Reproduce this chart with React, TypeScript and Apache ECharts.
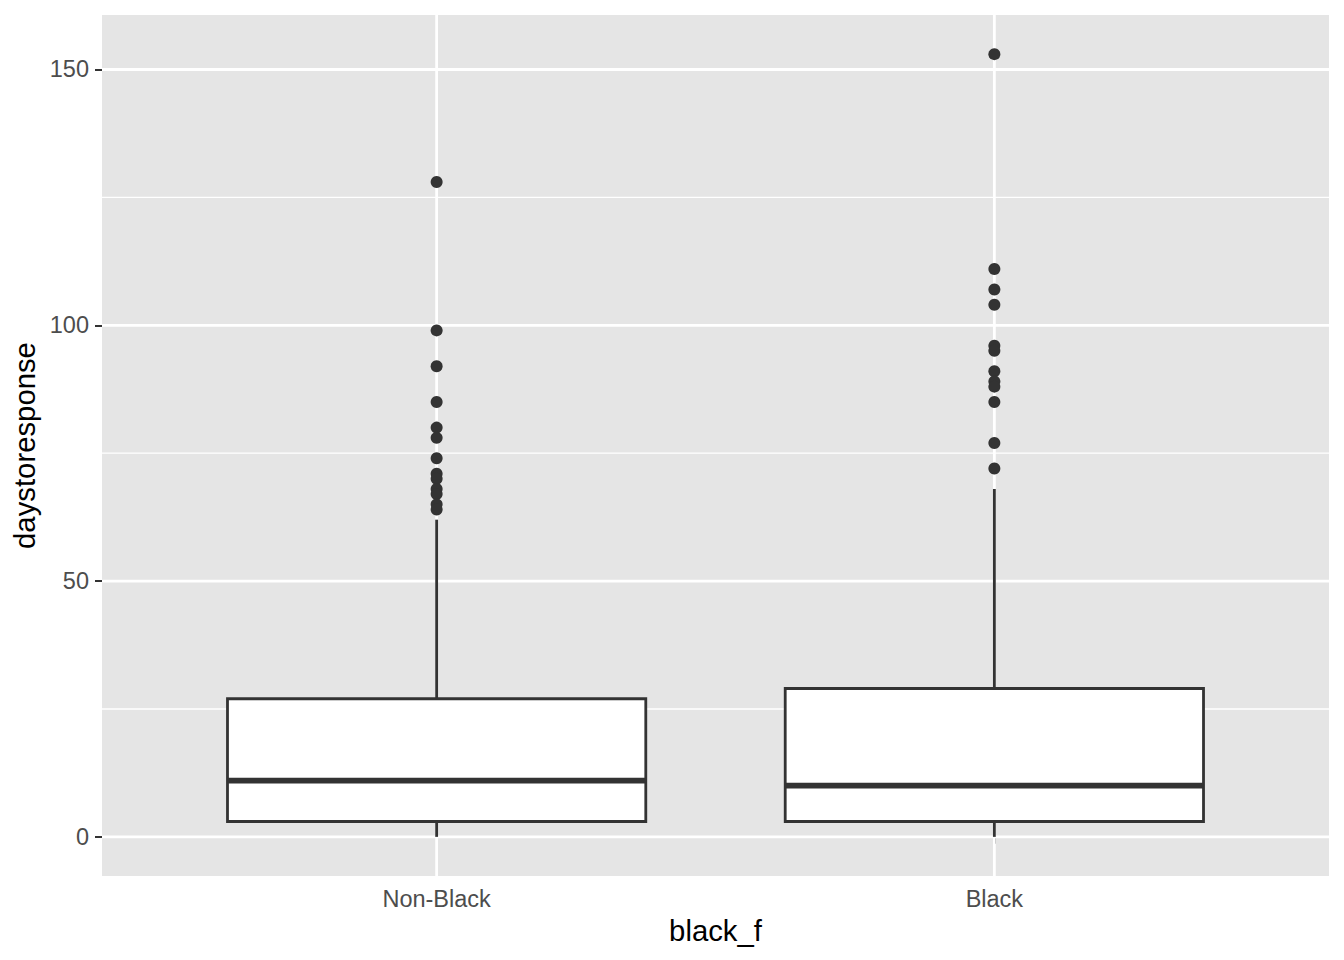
import React, { useEffect, useRef } from "react";
import * as echarts from "echarts";

const categories = ["Non-Black", "Black"];
const categoryPositions = [1, 2];
// [lower whisker, Q1, median, Q3, upper whisker]
const nonBlackBox = [0, 3, 11, 27, 62];
const blackBox = [0, 3, 10, 29, 68];
const nonBlackOutliers = [128, 99, 92, 85, 80, 78, 74, 71, 70, 68, 67, 65, 64];
const blackOutliers = [153, 111, 107, 104, 96, 95, 91, 89, 88, 85, 77, 72];
const yMajorBreaks = [0, 50, 100, 150];
const yMinorBreaks = [25, 75, 125];
const yLimits = [-7.65, 160.65];
const xLimits = [0.4, 2.6];

const FONT = "'Liberation Sans', Arial, Helvetica, sans-serif";
const INK = "#333333";

export default function App() {
  const ref = useRef<HTMLDivElement>(null);

  useEffect(() => {
    if (!ref.current) return;
    const chart = echarts.init(ref.current, undefined, { renderer: "svg" });

    const boxes = [nonBlackBox, blackBox].map((b, i) => [categoryPositions[i], ...b]);
    const outliers = [
      ...nonBlackOutliers.map((v) => [categoryPositions[0], v]),
      ...blackOutliers.map((v) => [categoryPositions[1], v]),
    ];
    // gridline data: [kind, value]; kind 0 = horizontal major, 1 = horizontal minor, 2 = vertical major
    const gridData = [
      ...yMajorBreaks.map((v) => [0, v]),
      ...yMinorBreaks.map((v) => [1, v]),
      ...categoryPositions.map((v) => [2, v]),
    ];

    const option: any = {
      animation: false,
      grid: {
        left: 102,
        right: 15,
        top: 15,
        bottom: 84,
        show: true,
        backgroundColor: "#E5E5E5",
        borderWidth: 0,
      },
      xAxis: {
        type: "value",
        min: xLimits[0],
        max: xLimits[1],
        splitLine: { show: false },
        axisLine: { show: false },
        axisTick: {
          show: true,
          customValues: categoryPositions,
          length: 7,
          lineStyle: { color: INK, width: 2 },
        },
        axisLabel: {
          customValues: categoryPositions,
          formatter: (v: number) => {
            const i = categoryPositions.indexOf(v);
            return i >= 0 ? categories[i] : "";
          },
          color: "#4D4D4D",
          fontSize: 23.5,
          fontFamily: FONT,
          margin: 11,
        },
        name: "black_f",
        nameLocation: "middle",
        nameGap: 40,
        nameTextStyle: { color: "#000", fontSize: 29.3, fontFamily: FONT },
      },
      yAxis: {
        type: "value",
        min: yLimits[0],
        max: yLimits[1],
        splitLine: { show: false },
        axisLine: { show: false },
        axisTick: {
          show: true,
          customValues: yMajorBreaks,
          length: 7,
          lineStyle: { color: INK, width: 2 },
        },
        axisLabel: {
          customValues: yMajorBreaks,
          color: "#4D4D4D",
          fontSize: 23.5,
          fontFamily: FONT,
          margin: 13,
        },
        name: "daystoresponse",
        nameLocation: "middle",
        nameGap: 59,
        nameTextStyle: { color: "#000", fontSize: 29.3, fontFamily: FONT },
      },
      series: [
        {
          type: "custom",
          z: 1,
          silent: true,
          data: gridData,
          encode: { x: 0, y: 1 },
          renderItem: (params: any, api: any) => {
            const kind = api.value(0);
            const v = api.value(1);
            if (kind === 2) {
              const a = api.coord([v, yLimits[0]]);
              const b = api.coord([v, yLimits[1]]);
              return {
                type: "line",
                shape: { x1: a[0], y1: a[1], x2: b[0], y2: b[1] },
                style: { stroke: "#FFFFFF", lineWidth: 2.8 },
              };
            }
            const a = api.coord([xLimits[0], v]);
            const b = api.coord([xLimits[1], v]);
            return {
              type: "line",
              shape: { x1: a[0], y1: a[1], x2: b[0], y2: b[1] },
              style: { stroke: "#FFFFFF", lineWidth: kind === 0 ? 2.8 : 1.4 },
            };
          },
        },
        {
          type: "custom",
          z: 2,
          silent: true,
          data: boxes,
          encode: { x: 0, y: [1, 2, 3, 4, 5] },
          renderItem: (params: any, api: any) => {
            const x = api.value(0);
            const lo = api.value(1);
            const q1 = api.value(2);
            const med = api.value(3);
            const q3 = api.value(4);
            const hi = api.value(5);
            const half = 0.375;
            const tl = api.coord([x - half, q3]);
            const br = api.coord([x + half, q1]);
            const mL = api.coord([x - half, med]);
            const mR = api.coord([x + half, med]);
            const pLo = api.coord([x, lo]);
            const pQ1 = api.coord([x, q1]);
            const pQ3 = api.coord([x, q3]);
            const pHi = api.coord([x, hi]);
            return {
              type: "group",
              children: [
                {
                  type: "line",
                  shape: { x1: pHi[0], y1: pHi[1], x2: pQ3[0], y2: pQ3[1] },
                  style: { stroke: INK, lineWidth: 2.8 },
                },
                {
                  type: "line",
                  shape: { x1: pLo[0], y1: pLo[1], x2: pQ1[0], y2: pQ1[1] },
                  style: { stroke: INK, lineWidth: 2.8 },
                },
                {
                  type: "rect",
                  shape: { x: tl[0], y: tl[1], width: br[0] - tl[0], height: br[1] - tl[1] },
                  style: { fill: "#FFFFFF", stroke: INK, lineWidth: 2.8 },
                },
                {
                  type: "line",
                  shape: { x1: mL[0], y1: mL[1], x2: mR[0], y2: mR[1] },
                  style: { stroke: INK, lineWidth: 5.7 },
                },
              ],
            };
          },
        },
        {
          type: "scatter",
          z: 3,
          silent: true,
          data: outliers,
          symbol: "circle",
          symbolSize: 12,
          itemStyle: { color: INK, opacity: 1 },
        },
      ],
    };

    chart.setOption(option);
    return () => chart.dispose();
  }, []);

  return (
    <div
      ref={ref}
      style={{ position: "absolute", left: 0, top: 0, width: 1344, height: 960, background: "#FFFFFF" }}
    />
  );
}
